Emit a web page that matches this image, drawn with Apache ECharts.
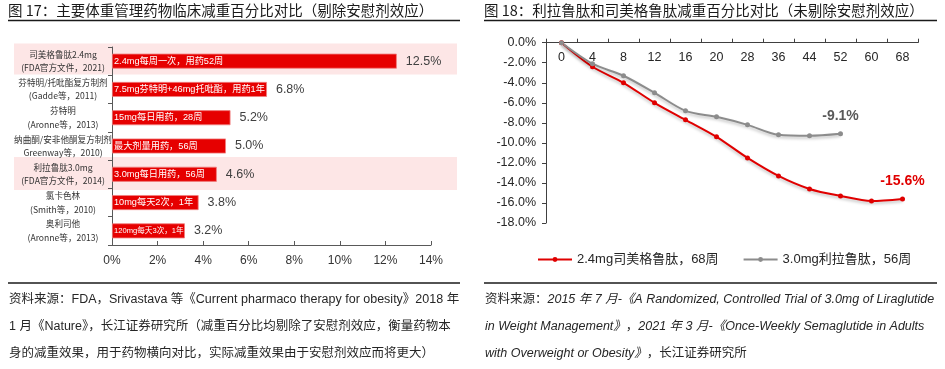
<!DOCTYPE html>
<html><head><meta charset="utf-8">
<script src="https://cdn.jsdelivr.net/npm/echarts@6/dist/echarts.min.js"></script>
<style>html,body{margin:0;padding:0;background:#fff;}#c{width:945px;height:369px;}</style>
</head><body><div id="c"></div>
<script>
// ---------- Data: figure 17 (left) ----------
const drugCategories = [
  '司美格鲁肽2.4mg\n(FDA官方文件，2021)',
  '芬特明/托吡酯复方制剂\n(Gadde等，2011)',
  '芬特明\n(Aronne等，2013)',
  '纳曲酮/安非他酮复方制剂\nGreenway等，2010)',
  '利拉鲁肽3.0mg\n(FDA官方文件，2014)',
  '氯卡色林\n(Smith等，2010)',
  '奥利司他\n(Aronne等，2013)'
];
const drugReduction = [12.5, 6.8, 5.2, 5.0, 4.6, 3.8, 3.2];
const drugDoseNotes = [
  '2.4mg每周一次，用药52周',
  '7.5mg芬特明+46mg托吡酯，用药1年',
  '15mg每日用药，28周',
  '最大剂量用药，56周',
  '3.0mg每日用药，56周',
  '10mg每天2次，1年',
  '120mg每天3次，1年'
];
const highlightRows = [1, 0, 0, 0, 1, 0, 0];
const leftAxisMax = 14;
const leftAxisStep = 2;

// ---------- Data: figure 18 (right) ----------
const weekCategories = ['0','4','8','12','16','20','28','36','44','52','60','68'];
const semaglutide = [0, -2.4, -4.0, -6.0, -7.7, -9.4, -11.5, -13.3, -14.6, -15.3, -15.8, -15.6];
const liraglutide = [0, -2.1, -3.3, -5.0, -6.8, -7.4, -8.2, -9.2, -9.3, -9.1, null, null];
const seriesNames = ['2.4mg司美格鲁肽，68周', '3.0mg利拉鲁肽，56周'];
const rightAxisMin = -18;
const rightAxisStep = 2;

// ---------- Text ----------
const title17 = '图 17：主要体重管理药物临床减重百分比对比（剔除安慰剂效应）';
const title18 = '图 18：利拉鲁肽和司美格鲁肽减重百分比对比（未剔除安慰剂效应）';
const source17 = [
  '资料来源：FDA，Srivastava 等《Current pharmaco therapy for obesity》2018 年',
  '1 月《Nature》，长江证券研究所（减重百分比均剔除了安慰剂效应，衡量药物本',
  '身的减重效果，用于药物横向对比，实际减重效果由于安慰剂效应而将更大）'
];

const FONT = '"Liberation Sans", Arial, "Noto Sans CJK SC", sans-serif';
const CJK = '"Noto Sans CJK SC", "Liberation Sans", sans-serif';
const RED = '#E60000';

const chart = echarts.init(document.getElementById('c'), null, {renderer: 'canvas'});

const lastIdx = (arr) => { let k = -1; arr.forEach((v, i) => { if (v !== null) k = i; }); return k; };
function withEndLabel(arr, color) {
  const li = lastIdx(arr);
  return arr.map((v, i) => i === li ? {
    value: v,
    label: {show: true, position: 'top', distance: 8, color: color, fontSize: 14, fontWeight: 'bold',
      fontFamily: FONT, formatter: p => p.value.toFixed(1) + '%'}
  } : v);
}

const graphics = [
  {type: 'text', left: 8, top: 3, style: {text: title17, font: '14.5px ' + CJK, fill: '#1a1a1a'}},
  {type: 'line', shape: {x1: 8, y1: 20.5, x2: 460, y2: 20.5}, style: {stroke: '#1a1a1a', lineWidth: 1.6}},
  {type: 'text', left: 484, top: 3, style: {text: title18, font: '14.5px ' + CJK, fill: '#1a1a1a'}},
  {type: 'line', shape: {x1: 484, y1: 20.5, x2: 937, y2: 20.5}, style: {stroke: '#1a1a1a', lineWidth: 1.6}},
  {type: 'line', shape: {x1: 8, y1: 283, x2: 460, y2: 283}, style: {stroke: '#1a1a1a', lineWidth: 1.6}},
  {type: 'line', shape: {x1: 484, y1: 283, x2: 937, y2: 283}, style: {stroke: '#1a1a1a', lineWidth: 1.6}}
];
const srcY = [301.5, 328.5, 355.5];
source17.forEach((t, i) => graphics.push({
  type: 'text', left: 9, top: srcY[i] - 8, style: {text: t, font: '12.5px ' + FONT, fill: '#262626'}
}));
const richR = {
  n: {fontSize: 12.5, fontFamily: FONT, color: '#262626'},
  i: {fontSize: 12.5, fontFamily: FONT, fontStyle: 'italic', color: '#262626'}
};
const source18 = [
  '{n|资料来源：}{i|2015 年 7 月-《A Randomized, Controlled Trial of 3.0mg of Liraglutide}',
  '{i|in Weight Management》}{n|，}{i|2021 年 3 月-《Once-Weekly Semaglutide in Adults}',
  '{i|with Overweight or Obesity》}{n|，长江证券研究所}'
];
source18.forEach((t, i) => graphics.push({
  type: 'text', left: 485, top: srcY[i] - 8, style: {text: t, rich: richR, fill: '#262626', font: '12.5px ' + FONT}
}));

const option = {
  animation: false,
  backgroundColor: '#fff',
  textStyle: {fontFamily: FONT},
  grid: [
    {left: 14, right: 945 - 457, top: 43.6, bottom: 369 - 245.7},   // pink row backgrounds
    {left: 112, right: 945 - 431, top: 47, bottom: 369 - 245},       // bar chart
    {left: 546, right: 945 - 918, top: 42.7, bottom: 369 - 223}      // line chart
  ],
  xAxis: [
    {gridIndex: 0, type: 'value', min: 0, max: 1, show: false},
    {gridIndex: 1, type: 'value', min: 0, max: leftAxisMax, interval: leftAxisStep,
      splitLine: {show: false},
      axisLine: {show: true, lineStyle: {color: '#595959', width: 1}},
      axisTick: {show: true, inside: true, length: 4, lineStyle: {color: '#595959'}},
      axisLabel: {formatter: '{value}%', fontSize: 12, color: '#333', margin: 10, fontFamily: FONT}},
    {gridIndex: 2, type: 'category', data: weekCategories, boundaryGap: true, position: 'top',
      axisLine: {onZero: false, lineStyle: {color: '#404040', width: 1}},
      axisTick: {show: true, inside: false, length: 4, lineStyle: {color: '#404040'}},
      axisLabel: {inside: true, fontSize: 12.5, color: '#262626', margin: 9, interval: 0, fontFamily: FONT}}
  ],
  yAxis: [
    {gridIndex: 0, type: 'category', data: drugCategories, inverse: true, show: false},
    {gridIndex: 1, type: 'category', data: drugCategories, inverse: true,
      axisLine: {show: true, lineStyle: {color: '#595959', width: 1}},
      axisTick: {show: true, length: 4, lineStyle: {color: '#595959'}},
      axisLabel: {align: 'center', margin: 49, fontSize: 8.6, lineHeight: 13.5, color: '#333', fontFamily: CJK}},
    {gridIndex: 2, type: 'value', min: rightAxisMin, max: 0, interval: rightAxisStep,
      splitLine: {show: false},
      axisLine: {show: true, lineStyle: {color: '#404040', width: 1}},
      axisTick: {show: true, length: 4, lineStyle: {color: '#404040'}},
      axisLabel: {formatter: v => v.toFixed(1) + '%', fontSize: 12.5, color: '#262626', margin: 10, fontFamily: FONT}}
  ],
  legend: {
    data: seriesNames, top: 248, left: 532, itemWidth: 34, itemHeight: 6, itemGap: 24,
    textStyle: {fontSize: 13, color: '#262626', fontFamily: FONT}
  },
  series: [
    {type: 'bar', xAxisIndex: 0, yAxisIndex: 0, data: highlightRows, barWidth: 33, z: -1, silent: true,
      itemStyle: {color: '#FDE6E6'}},
    {type: 'bar', xAxisIndex: 1, yAxisIndex: 1, data: drugReduction, barWidth: 15,
      itemStyle: {color: RED, borderColor: '#F08080', borderWidth: 0.8},
      label: {show: true, position: 'insideLeft', distance: 2, color: '#fff', overflow: 'none',
        formatter: p => (p.dataIndex === 6 ? '{s|' : '{n|') + drugDoseNotes[p.dataIndex] + '}',
        rich: {n: {fontSize: 9.2, fontFamily: FONT, color: '#fff'}, s: {fontSize: 7.6, fontFamily: FONT, color: '#fff'}}}},
    {type: 'bar', xAxisIndex: 1, yAxisIndex: 1, data: drugReduction, barWidth: 15, barGap: '-100%', silent: true,
      itemStyle: {color: 'rgba(0,0,0,0)'},
      label: {show: true, position: 'right', distance: 9, color: '#404040', fontSize: 12.5, fontFamily: FONT,
        formatter: p => p.value.toFixed(1) + '%'}},
    {name: seriesNames[0], type: 'line', xAxisIndex: 2, yAxisIndex: 2, data: withEndLabel(semaglutide, '#E00000'),
      smooth: 0.3, symbol: 'circle', symbolSize: 5, color: '#E00000',
      lineStyle: {width: 2, color: '#E00000', shadowColor: 'rgba(0,0,0,0.25)', shadowBlur: 3, shadowOffsetY: 2},
      itemStyle: {color: '#E00000'}},
    {name: seriesNames[1], type: 'line', xAxisIndex: 2, yAxisIndex: 2, data: withEndLabel(liraglutide, '#595959'),
      smooth: 0.3, symbol: 'circle', symbolSize: 5, color: '#8C8C8C',
      lineStyle: {width: 2, color: '#8C8C8C', shadowColor: 'rgba(0,0,0,0.25)', shadowBlur: 3, shadowOffsetY: 2},
      itemStyle: {color: '#8C8C8C'}}
  ],
  graphic: graphics
};
chart.setOption(option);
</script>
</body></html>
